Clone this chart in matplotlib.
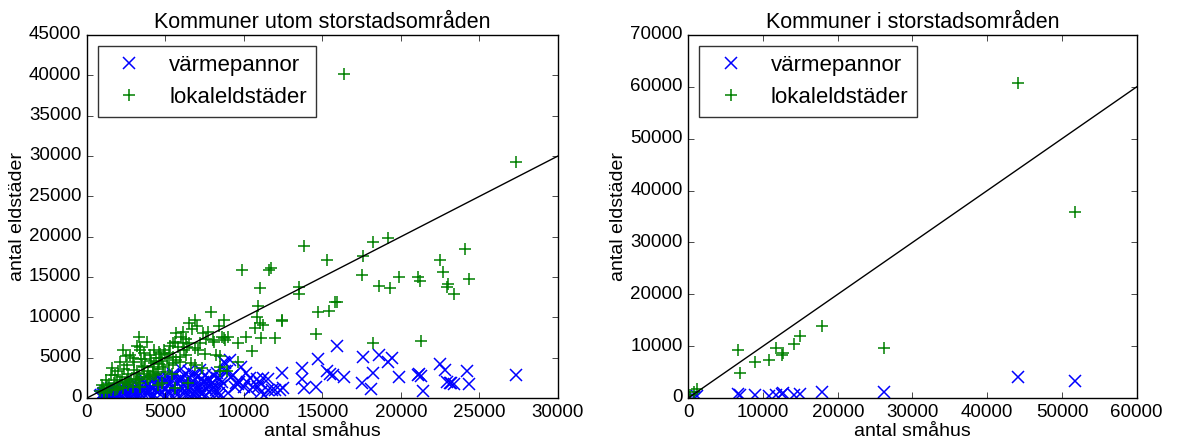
import matplotlib
matplotlib.use('Agg')
import matplotlib.pyplot as plt
import numpy as np

plt.style.use('classic')
plt.rcParams['font.family'] = ['Liberation Sans', 'DejaVu Sans']

# Kommuner utom storstadsområden, in thousands
# värmepannor: (antal småhus, antal värmepannor)
ute_varme_x = [27.3, 24.2, 24.3, 22.5, 22.8, 22.9, 23.1, 23.2, 23.4, 21.1, 21.25, 21.15, 21.4,
               19.9, 19.2, 19.4, 18.6, 17.6, 18.2, 17.5, 18.1, 16.4, 15.9, 15.7, 15.3, 15.5,
               14.7, 14.6, 13.8, 13.7, 13.7, 12.4, 12.3, 11.8, 11.5, 11.2, 11.0, 10.8, 10.6,
               10.4, 10.1, 9.8, 10.0, 9.5, 9.3, 8.8, 8.8, 8.5, 8.0, 8.2, 11.3,
               9.7, 10.2, 11.5, 12.5, 9.2, 9.4, 10.4, 10.9, 11.1, 12.0, 9.0,
               0.8, 0.9, 1.0, 1.1, 1.2, 1.3, 1.4, 1.5, 1.6, 1.7, 1.8, 1.9, 2.0, 2.0,
               2.1, 2.2, 2.3, 2.4, 2.5, 2.6, 2.7, 2.8, 2.9, 3.0, 3.0, 3.1, 3.2, 3.3, 3.4,
               3.5, 3.6, 3.7, 3.8, 3.9, 4.0,
               4.1, 4.2, 4.3, 4.4, 4.5, 4.6, 4.7, 4.8, 4.9, 5.0, 5.1, 5.2, 5.3, 5.4, 5.5,
               5.6, 5.7, 5.8, 5.9, 6.0,
               6.1, 6.2, 6.3, 6.4, 6.5, 6.6, 6.7, 6.8, 6.9, 7.0, 7.1, 7.2, 7.3, 7.4, 7.5,
               7.6, 7.7, 7.8, 7.9, 8.0,
               8.1, 8.3, 8.4, 8.6, 8.7, 8.9, 9.1, 9.6,
               1.2, 2.5, 3.5, 4.5, 5.5, 6.5, 3.0, 6.0, 7.2, 5.0, 6.8, 1.5,
               1.05, 1.35, 1.65, 1.95, 2.25, 2.55, 2.85, 3.15, 3.45, 3.75, 4.05, 4.35,
               4.65, 4.95, 5.25, 5.55, 5.85, 6.15, 6.45, 6.75, 7.05, 7.35, 7.65, 7.95,
               8.25, 8.55, 2.15, 2.75, 3.35, 3.95, 4.55, 5.15, 5.75, 6.35, 6.95, 7.55,
               8.15, 4.25, 4.85, 5.45, 6.05, 6.65, 7.25, 7.85, 3.65, 2.45, 1.75, 5.65,
               6.25, 6.85, 3.05, 4.15, 5.05, 6.55, 7.15, 8.45]
ute_varme_y = [2.9, 3.3, 1.7, 4.2, 3.5, 2.0, 1.8, 1.9, 1.7, 2.85, 2.7, 3.0, 0.9,
               2.6, 4.5, 4.9, 5.3, 5.1, 3.1, 1.9, 1.1, 2.6, 6.4, 2.85, 3.4, 3.0,
               4.8, 1.4, 1.2, 3.7, 2.4, 3.1, 1.0, 1.0, 2.3, 2.5, 1.9, 2.3, 1.4,
               2.5, 3.1, 3.9, 1.4, 1.9, 2.9, 4.3, 3.3, 2.3, 1.9, 1.0, 0.4,
               2.0, 2.0, 1.0, 1.2, 2.6, 1.4, 1.0, 1.4, 0.8, 1.0, 0.6,
               0.2, 0.4, 0.3, 0.6, 0.2, 0.5, 0.8, 0.3, 0.6, 1.0, 0.4, 0.7, 1.1, 0.3,
               0.5, 0.9, 1.3, 0.4, 0.7, 1.1, 0.3, 1.5, 0.8, 1.2, 0.5, 1.7, 0.9, 0.3, 1.4,
               0.7, 1.9, 1.1, 0.5, 1.6, 0.9,
               2.1, 1.3, 0.4, 1.8, 0.8, 2.3, 1.5, 0.6, 2.0, 1.1, 2.6, 1.7, 0.5, 2.2, 1.3,
               2.8, 0.9, 1.9, 2.5, 1.4,
               0.6, 2.9, 2.1, 1.2, 2.6, 0.8, 1.8, 3.0, 2.3, 1.0, 2.7, 1.5, 0.5, 2.0, 2.9,
               1.2, 2.4, 0.8, 1.7, 2.8,
               1.3, 3.1, 0.6, 2.0, 4.5, 3.3, 4.7, 1.7,
               0.9, 1.4, 2.2, 2.6, 3.0, 3.3, 2.0, 3.6, 3.5, 0.3, 0.4, 1.2,
               0.5, 0.3, 0.8, 0.5, 0.7, 0.4, 1.0, 0.6, 1.1, 0.8, 1.4, 1.0,
               1.7, 1.3, 1.9, 1.5, 2.2, 1.7, 1.0, 2.1, 1.4, 2.3, 1.9, 1.1,
               2.5, 1.5, 0.2, 0.5, 0.6, 0.7, 1.2, 0.9, 0.4, 0.5, 0.6, 0.4,
               0.5, 2.4, 2.5, 2.7, 2.4, 1.3, 0.8, 2.2, 2.4, 1.6, 1.3, 0.6,
               1.5, 0.3, 0.2, 0.2, 0.2, 0.3, 0.2, 0.3]

# lokaleldstäder: (antal småhus, antal lokaleldstäder)
ute_lokal_x = [16.4, 27.3, 13.8, 15.3, 18.2, 19.15, 24.1, 22.5, 17.6, 9.9, 11.6, 11.75, 11.0,
               13.5, 13.5, 17.5, 19.9, 18.6, 19.3, 21.1, 21.2, 22.7, 22.9, 23.0, 23.4, 24.3,
               10.9, 14.7, 15.4, 15.8, 15.9, 12.4, 12.4, 14.6, 18.2, 21.3,
               7.9, 8.7, 6.9, 5.7, 6.1, 6.7, 7.4, 7.7, 5.5, 6.5, 6.9, 7.1, 8.0, 8.7, 8.8,
               8.2, 6.6, 6.9, 7.3, 5.9, 5.5, 5.1, 4.65, 8.5, 6.45, 5.6, 4.75,
               3.3, 3.8, 2.3, 2.75, 3.2, 3.4, 2.1, 1.6, 1.5, 1.2, 0.95, 2.55, 3.0, 3.6,
               4.25, 4.0, 4.6, 1.9, 2.55, 3.2, 3.8, 4.25, 1.3, 1.8, 2.3, 2.9, 3.4, 4.5,
               4.2, 4.8, 5.2, 5.8, 6.2, 4.4, 5.0, 5.4, 5.9, 6.1, 6.3, 7.0, 6.5, 7.2, 7.5,
               7.6, 8.1, 8.4, 8.6, 9.0, 9.6, 10.1, 10.5, 10.7, 10.8, 11.0, 11.1,
               11.2, 12.0, 9.6, 8.5, 8.5, 8.9,
               0.8, 1.0, 1.1, 1.3, 1.5, 1.7, 2.0, 2.2, 2.4, 2.6, 2.8, 3.0, 3.2, 3.5, 3.7,
               3.9, 4.1, 4.3, 4.5, 4.7, 3.4, 3.6, 2.9, 2.5, 4.9, 5.3, 5.6, 6.0, 6.4, 5.0,
               4.0, 3.3, 2.0, 1.8,
               1.4, 2.1, 2.7, 3.1, 3.6, 4.2, 4.6, 5.2, 5.7, 6.3, 1.9, 2.6, 3.3, 3.9, 4.4,
               1.1, 2.35, 3.45, 4.85, 5.45]
ute_lokal_y = [40.2, 29.2, 18.9, 17.1, 19.3, 19.8, 18.5, 17.1, 17.6, 15.9, 15.9, 16.1, 13.6,
               13.8, 12.9, 15.2, 15.0, 13.9, 13.6, 15.0, 14.5, 15.6, 13.8, 14.1, 12.9, 14.8,
               11.4, 10.6, 10.8, 11.9, 11.9, 9.6, 9.7, 7.9, 6.8, 7.1,
               10.7, 9.7, 9.7, 8.0, 8.2, 8.6, 8.0, 8.2, 6.8, 6.8, 6.2, 5.9, 7.2, 7.4, 7.2,
               5.3, 4.3, 4.1, 3.7, 4.5, 5.1, 4.9, 5.5, 3.3, 1.8, 1.2, 1.8,
               7.6, 7.0, 5.9, 5.3, 6.4, 5.9, 4.5, 3.7, 2.85, 2.2, 1.6, 4.1, 3.5, 3.9,
               4.3, 5.3, 5.7, 2.2, 2.2, 2.2, 2.6, 2.85, 0.8, 1.0, 1.2, 1.4, 1.4, 1.6,
               3.9, 4.6, 5.6, 6.3, 6.0, 4.9, 3.2, 3.0, 5.1, 6.8, 7.3, 8.9, 9.3, 6.8, 5.5,
               7.3, 6.9, 8.9, 7.6, 7.5, 6.8, 7.6, 5.8, 8.7, 10.1, 9.3, 7.4,
               9.0, 7.4, 4.5, 5.2, 3.9, 3.3,
               0.9, 1.2, 0.6, 1.5, 1.0, 1.9, 1.4, 2.6, 1.8, 3.0, 2.4, 4.5, 3.1, 4.0, 4.8,
               3.3, 4.6, 6.0, 3.6, 5.0, 6.3, 5.6, 5.0, 5.2, 6.0, 6.5, 7.0, 7.5, 6.3, 5.5,
               2.7, 2.6, 3.3, 2.9,
               1.7, 2.0, 2.0, 2.3, 3.0, 3.2, 4.2, 4.1, 4.7, 5.3, 1.1, 1.6, 1.9, 2.4, 3.0,
               0.7, 3.6, 4.8, 3.9, 4.3]

# Kommuner i storstadsområden, in thousands
stor_x = [44.1, 51.7, 26.2, 17.9, 15.0, 14.1, 12.5, 12.7, 11.8, 10.8, 8.9, 6.7, 6.9, 1.2, 0.7, 0.2]
stor_varme = [4.1, 3.2, 1.1, 1.1, 0.8, 0.6, 0.8, 0.9, 0.6, 0.45, 0.6, 0.8, 0.5, 0.3, 0.25, 0.1]
stor_lokal = [60.8, 35.9, 9.7, 13.8, 11.9, 10.5, 8.35, 8.7, 9.6, 7.4, 6.9, 9.3, 4.8, 1.7, 1.1, 0.5]

ute_lim = [30000, 45000]
stor_lim = [60000, 70000]

fig = plt.figure(figsize=(11.9, 4.43), dpi=100, facecolor='white')
ax1 = fig.add_axes([0.0731, 0.1016, 0.3958, 0.8194])
ax2 = fig.add_axes([0.5784, 0.1016, 0.3768, 0.8194])

panels = [
    (ax1, 'Kommuner utom storstadsområden', ute_varme_x, ute_varme_y, ute_lokal_x, ute_lokal_y, ute_lim),
    (ax2, 'Kommuner i storstadsområden', stor_x, stor_varme, stor_x, stor_lokal, stor_lim),
]

for ax, title, vx, vy, lx, ly, lim in panels:
    ax.plot(np.array(vx) * 1000, np.array(vy) * 1000, 'x', color='b', ms=8.5, mew=1.1,
            label='värmepannor')
    ax.plot(np.array(lx) * 1000, np.array(ly) * 1000, '+', color='g', ms=8.5, mew=1.1,
            label='lokaleldstäder')
    ax.plot([0, lim[0]], [0, lim[0]], 'k-', lw=1)
    ax.set_xlim(0, lim[0])
    ax.set_ylim(0, lim[1])
    ax.set_title(title, fontsize=15.5, y=1.0)
    ax.set_xlabel('antal småhus', fontsize=14, labelpad=2)
    ax.set_ylabel('antal eldstäder', fontsize=14, labelpad=2)
    ax.tick_params(labelsize=13.5, direction='in', top=True, right=True)
    leg = ax.legend(loc='upper left', numpoints=1, fontsize=16, fancybox=False,
                    handletextpad=0.8, borderaxespad=0.5)
    leg.get_frame().set_edgecolor('0.2')

fig.savefig('out.png', dpi=100, facecolor='white')
